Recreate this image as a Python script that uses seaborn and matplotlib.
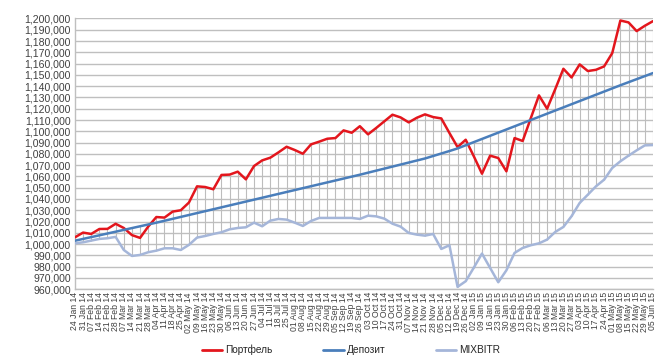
import matplotlib
matplotlib.use("Agg")
import matplotlib.pyplot as plt
import matplotlib.ticker as mticker
import numpy as np
import pandas as pd
import seaborn as sns

# weekly dates, 24 Jan 14 .. 05 Jun 15
dates = pd.date_range("2014-01-24", periods=72, freq="7D")
date_labels = [d.strftime("%d %b %y") for d in dates]

portfel = [
    1006000, 1010200, 1009000, 1013400, 1013500, 1018000, 1014300, 1008000, 1005500, 1015500,
    1024000, 1023500, 1028800, 1030000, 1036800, 1051200, 1050600, 1048600, 1061300, 1061600,
    1064200, 1057400, 1069200, 1074200, 1076600, 1081300, 1086300, 1083400, 1080100, 1088400,
    1090800, 1093400, 1094000, 1100800, 1098700, 1104500, 1097300, 1102900, 1108800, 1114700,
    1112300, 1107900, 1112000, 1115000, 1112600, 1111400, 1098500, 1086000, 1092500, 1077800,
    1062400, 1078400, 1076300, 1064500, 1094000, 1091400, 1111700, 1131800, 1120000, 1137400,
    1155400, 1147700, 1159300, 1153400, 1154500, 1157500, 1169300, 1198200, 1196500, 1188800,
    1193500, 1197600,
]

depozit = [
    1003000, 1004600, 1006200, 1007800, 1009400, 1011000, 1012600, 1014200, 1015800, 1017400,
    1019000, 1020700, 1022400, 1024100, 1025800, 1027500, 1029200, 1030900, 1032600, 1034300,
    1036000, 1037700, 1039400, 1041100, 1042800, 1044500, 1046200, 1047900, 1049600, 1051300,
    1053000, 1054700, 1056400, 1058100, 1059800, 1061500, 1063300, 1065100, 1066900, 1068700,
    1070500, 1072300, 1074100, 1075900, 1078100, 1080300, 1082500, 1084800, 1087600, 1090400,
    1093200, 1096000, 1098800, 1101600, 1104400, 1107200, 1110000, 1112800, 1115600, 1118400,
    1121200, 1124000, 1126800, 1129600, 1132400, 1135200, 1138000, 1140800, 1143500, 1146200,
    1148900, 1151600,
]

mixbitr = [
    1000700, 1001600, 1003100, 1004600, 1005200, 1006400, 994800, 989500, 990400, 992800,
    994200, 996300, 996300, 994800, 999300, 1005800, 1007200, 1009000, 1010500, 1013100,
    1014300, 1014900, 1019000, 1015800, 1020800, 1022300, 1021700, 1019000, 1016100, 1020500,
    1023200, 1023200, 1023200, 1023200, 1023200, 1022300, 1025200, 1024600, 1022600, 1018100,
    1015500, 1009900, 1008400, 1007500, 1009000, 995700, 999000, 962100, 967100, 979200,
    991600, 978900, 966200, 976800, 992200, 996600, 999000, 1000700, 1004000, 1010800,
    1015200, 1024700, 1036500, 1043800, 1051200, 1057100, 1067500, 1073400, 1078400, 1083100,
    1087500, 1087800,
]

series_names = ["Портфель", "Депозит", "MIXBITR"]
colors = ["#E3161D", "#4A7EBB", "#A5B6D9"]

df = pd.DataFrame({"idx": np.arange(len(dates)),
                   "Портфель": portfel, "Депозит": depozit, "MIXBITR": mixbitr})
long_df = df.melt(id_vars="idx", var_name="series", value_name="value")

sns.set_style("white")
plt.rcParams["font.family"] = ["Liberation Sans", "DejaVu Sans"]

fig = plt.figure(figsize=(6.69, 3.62), dpi=100)
ax = fig.add_axes([0.112, 0.201, 0.864, 0.748])

sns.lineplot(data=long_df, x="idx", y="value", hue="series", hue_order=series_names,
             palette=colors, linewidth=1.8, ax=ax, legend=False, zorder=3)

# high-low lines between the highest and lowest series each week
vals = df[series_names].to_numpy()
ax.vlines(df["idx"].to_numpy(), vals.min(axis=1), vals.max(axis=1),
          colors="#BDBDBD", linewidths=0.8, zorder=2)

ax.set_ylim(960000, 1200000)
ax.set_xlim(0, len(dates) - 1)
ax.yaxis.set_major_locator(mticker.MultipleLocator(10000))
ax.yaxis.set_major_formatter(mticker.StrMethodFormatter("{x:,.0f}"))
ax.grid(axis="y", color="#BFBFBF", linewidth=1)
ax.grid(axis="x", visible=False)
ax.set_axisbelow(True)
ax.set_xticks(df["idx"])
ax.set_xticklabels(date_labels, rotation=90, fontsize=6.2, color="#404040")
ax.tick_params(axis="y", labelsize=7.6, labelcolor="#404040", length=0, pad=3)
ax.tick_params(axis="x", length=0, pad=2)
ax.set_xlabel("")
ax.set_ylabel("")
for s in ["top", "right"]:
    ax.spines[s].set_visible(False)
for s in ["left", "bottom"]:
    ax.spines[s].set_color("#BFBFBF")
    ax.spines[s].set_linewidth(1)

handles = [plt.Line2D([], [], color=c, linewidth=2) for c in colors]
fig.legend(handles, series_names, loc="center", bbox_to_anchor=(0.525, 0.033), ncol=3,
           frameon=False, fontsize=7.3, handlelength=2.0, columnspacing=5.0, handletextpad=0.3)

plt.savefig("out.png", dpi=100)
plt.close()
